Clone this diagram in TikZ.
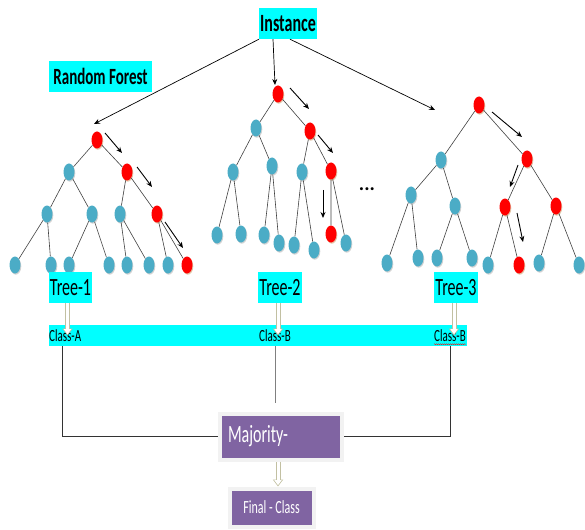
\documentclass[tikz,border=0pt]{standalone}
\usepackage{fontspec}
\setmainfont{Carlito}
\usetikzlibrary{positioning, calc, shapes.geometric, shadows, arrows.meta, decorations.pathmorphing}
\definecolor{aqua}{HTML}{00FFFF}
\definecolor{leafblue}{HTML}{4BACC6}
\definecolor{majpurple}{HTML}{8064A2}
\newcommand{\tall}[1]{\scalebox{1}[1.55]{#1}}

\begin{document}
\begin{tikzpicture}[
    x=1pt, y=-1pt,
    vertex/.style={ellipse, minimum width=11pt, minimum height=17pt, inner sep=0pt},
    split/.style={vertex, fill=leafblue, drop shadow={shadow xshift=0.8pt, shadow yshift=-1.2pt, fill=gray, opacity=0.35}},
    hit/.style={vertex, fill=red, drop shadow={shadow xshift=0.8pt, shadow yshift=-1.2pt, fill=brown, opacity=0.45}},
    branch/.style={draw=black!75, line width=0.6pt},
    walk/.style={-{Stealth[length=6pt, width=5pt]}, line width=0.9pt},
    feed/.style={-{Stealth[length=6pt, width=5pt]}, line width=0.7pt},
    tag/.style={fill=aqua, inner sep=1pt, minimum height=31pt, font=\fontsize{16}{16}\selectfont},
    cls/.style={inner sep=0pt, minimum height=21pt, anchor=west, font=\fontsize{11}{11}\selectfont},
    hollow/.style={draw=olive!30!gray!55, line width=5pt, -{Triangle[length=7pt, width=10pt]},
        postaction={draw=white, line width=3pt, shorten >=1.3pt, -{Triangle[length=5pt, width=7pt]}}},
    wire/.style={draw=black!80, line width=0.8pt},
    panel/.style={fill=majpurple, draw=gray!10, line width=4pt, text=white,
        drop shadow={shadow xshift=1.5pt, shadow yshift=-1.5pt, opacity=0.3}}
]
    \useasboundingbox (0,0) rectangle (585,529);

    % Labels
    \node[tag, minimum width=56pt, font=\bfseries\fontsize{16}{16}\selectfont] (inst) at (288,23.5) {\tall{Instance}};
    \node[tag, minimum width=103pt, font=\bfseries\fontsize{15}{15}\selectfont] (rf) at (100.5,76.5) {\tall{Random Forest}};

    % Tree 1
    \node[hit] (t1r) at (97,140) {};
    \node[split] (t1a) at (69,172) {};
    \node[hit] (t1b) at (127,172) {};
    \node[split] (t1aa) at (47,214) {};
    \node[split] (t1ab) at (92,214) {};
    \node[split] (t1ba) at (120,214) {};
    \node[hit] (t1bb) at (157,214) {};
    \node[split] (t1l1) at (15,265) {};
    \node[split] (t1l2) at (51,265) {};
    \node[split] (t1l3) at (69,265) {};
    \node[split] (t1l4) at (109,265) {};
    \node[split] (t1l5) at (127,265) {};
    \node[split] (t1l6) at (149,265) {};
    \node[split] (t1l7) at (168,265) {};
    \node[hit] (t1l8) at (187,265) {};

    % Tree 2
    \node[hit] (t2r) at (278,94) {};
    \node[split] (t2a) at (256,128) {};
    \node[hit] (t2b) at (310,131) {};
    \node[split] (t2aa) at (233,172) {};
    \node[split] (t2ab) at (272,166) {};
    \node[split] (t2ba) at (302,172) {};
    \node[hit] (t2bb) at (331,171) {};
    \node[split] (t2l1) at (217,235) {};
    \node[split] (t2l2) at (241,234) {};
    \node[split] (t2l3) at (264,235) {};
    \node[split] (t2l4) at (279,243) {};
    \node[split] (t2l5) at (294,245) {};
    \node[split] (t2l6) at (314,250) {};
    \node[hit] (t2l7) at (331,234) {};
    \node[split] (t2l8) at (346,243) {};

    \node[inner sep=0pt, font=\bfseries\fontsize{20}{20}\selectfont] (more) at (367,189) {...};

    % Tree 3
    \node[hit] (t3r) at (479,105) {};
    \node[split] (t3a) at (441,160) {};
    \node[hit] (t3b) at (527,159) {};
    \node[split] (t3aa) at (411,195) {};
    \node[split] (t3ab) at (455,206) {};
    \node[hit] (t3ba) at (505,207) {};
    \node[hit] (t3bb) at (556,206) {};
    \node[split] (t3l1) at (387,263) {};
    \node[split] (t3l2) at (418,258) {};
    \node[split] (t3l3) at (437,258) {};
    \node[split] (t3l4) at (472,258) {};
    \node[split] (t3l5) at (488,265) {};
    \node[hit] (t3l6) at (519,265) {};
    \node[split] (t3l7) at (539,263) {};
    \node[split] (t3l8) at (579,265) {};

    % Branches
    \draw[branch] (t1r) -- (t1a) (t1r) -- (t1b) (t1a) -- (t1aa) (t1a) -- (t1ab) (t1b) -- (t1ba) (t1b) -- (t1bb)
        (t1aa) -- (t1l1) (t1aa) -- (t1l2) (t1ab) -- (t1l3) (t1ab) -- (t1l4)
        (t1ba) -- (t1l5) (t1ba) -- (t1l6) (t1bb) -- (t1l7) (t1bb) -- (t1l8);
    \draw[branch] (t2r) -- (t2a) (t2r) -- (t2b) (t2a) -- (t2aa) (t2a) -- (t2ab) (t2b) -- (t2ba) (t2b) -- (t2bb)
        (t2aa) -- (t2l1) (t2aa) -- (t2l2) (t2ab) -- (t2l3) (t2ab) -- (t2l4)
        (t2ba) -- (t2l5) (t2ba) -- (t2l6) (t2bb) -- (t2l7) (t2bb) -- (t2l8);
    \draw[branch] (t3r) -- (t3a) (t3r) -- (t3b) (t3a) -- (t3aa) (t3a) -- (t3ab) (t3b) -- (t3ba) (t3b) -- (t3bb)
        (t3aa) -- (t3l1) (t3aa) -- (t3l2) (t3ab) -- (t3l3) (t3ab) -- (t3l4)
        (t3ba) -- (t3l5) (t3ba) -- (t3l6) (t3bb) -- (t3l7) (t3bb) -- (t3l8);

    % Instance goes to every tree
    \draw[feed] (inst.south west) -- ([shift={(-3pt,16pt)}]t1r.center);
    \draw[feed] ([xshift=-15pt]inst.south) -- ([shift={(-3pt,9pt)}]t2r.center);
    \draw[feed] ([xshift=2pt]inst.south) -- ([shift={(-44pt,-5pt)}]t3r.center);

    % Decision paths
    \draw[walk] ([shift={(8pt,7pt)}]t1r.center) -- ([shift={(-5pt,19pt)}]t1b.center);
    \draw[walk] ([shift={(10pt,5pt)}]t1b.center) -- ([shift={(-5pt,27pt)}]t1bb.center);
    \draw[walk] ([shift={(8pt,-8pt)}]t1bb.center) -- ([shift={(-4pt,17pt)}]t1l8.center);
    \draw[walk] ([shift={(12pt,6pt)}]t2r.center) -- ([shift={(-1pt,22pt)}]t2b.center);
    \draw[walk] ([shift={(8pt,-4pt)}]t2b.center) -- ([shift={(2pt,18pt)}]t2bb.center);
    \draw[walk] ([shift={(-8pt,-19pt)}]t2bb.center) -- ([shift={(-8pt,16pt)}]t2l7.center);
    \draw[walk] ([shift={(13pt,-7pt)}]t3r.center) -- ([shift={(-5pt,22pt)}]t3b.center);
    \draw[walk] ([shift={(-9pt,-6pt)}]t3b.center) -- ([shift={(5pt,20pt)}]t3ba.center);
    \draw[walk] ([shift={(12pt,-6pt)}]t3ba.center) -- ([shift={(4pt,23pt)}]t3l6.center);

    % Tree labels and classes
    \node[tag, minimum width=43pt] (tree1) at (70.5,287.5) {\tall{Tree-1}};
    \node[tag, minimum width=43pt] (tree2) at (280,287.5) {\tall{Tree-2}};
    \node[tag, minimum width=43pt] (tree3) at (456,287.5) {\tall{Tree-3}};

    \node[fill=aqua, minimum width=418pt, minimum height=21pt, inner sep=0pt] (bar) at (258,335.5) {};
    \node[cls] (clsA) at (49,335.5) {\tall{Class-A}};
    \node[cls] (clsB1) at (259,335.5) {\tall{Class-B}};
    \node[cls] (clsB2) at (434,335.5) {\tall{Class-B}};
    \draw[red, line width=0.4pt, decorate, decoration={snake, amplitude=0.5pt, segment length=2pt}]
        ([yshift=2pt]clsB2.south west) -- ([yshift=2pt]clsB2.south east);

    \draw[hollow] ([xshift=-3pt]tree1.south) -- ([xshift=-3pt]tree1.south |- clsA.center);
    \draw[hollow] ([xshift=-2pt]tree2.south) -- ([xshift=-2pt]tree2.south |- clsB1.center);
    \draw[hollow] ([xshift=-2pt]tree3.south) -- ([xshift=-2pt]tree3.south |- clsB2.center);

    % Voting
    \node[panel, minimum width=122pt, minimum height=46pt, text width=106pt, inner xsep=8pt, align=left,
        font=\fontsize{16}{16}\selectfont] (major) at (281,436.5) {\tall{Majority-}};
    \node[panel, minimum width=84pt, minimum height=38pt, font=\fontsize{12}{12}\selectfont] (final) at (271.5,507.5) {\tall{Final - Class}};

    \draw[wire] ([xshift=-3pt]clsA.south) |- (major.west);
    \draw[wire, draw=gray] (clsB1.south) -- ([yshift=9pt]clsB1.south |- major.north);
    \draw[wire] (clsB2.south) |- (major.east);
    \draw[hollow] ([xshift=-3pt]major.south) -- ([xshift=-3pt]major.south |- final.north);
\end{tikzpicture}
\end{document}
